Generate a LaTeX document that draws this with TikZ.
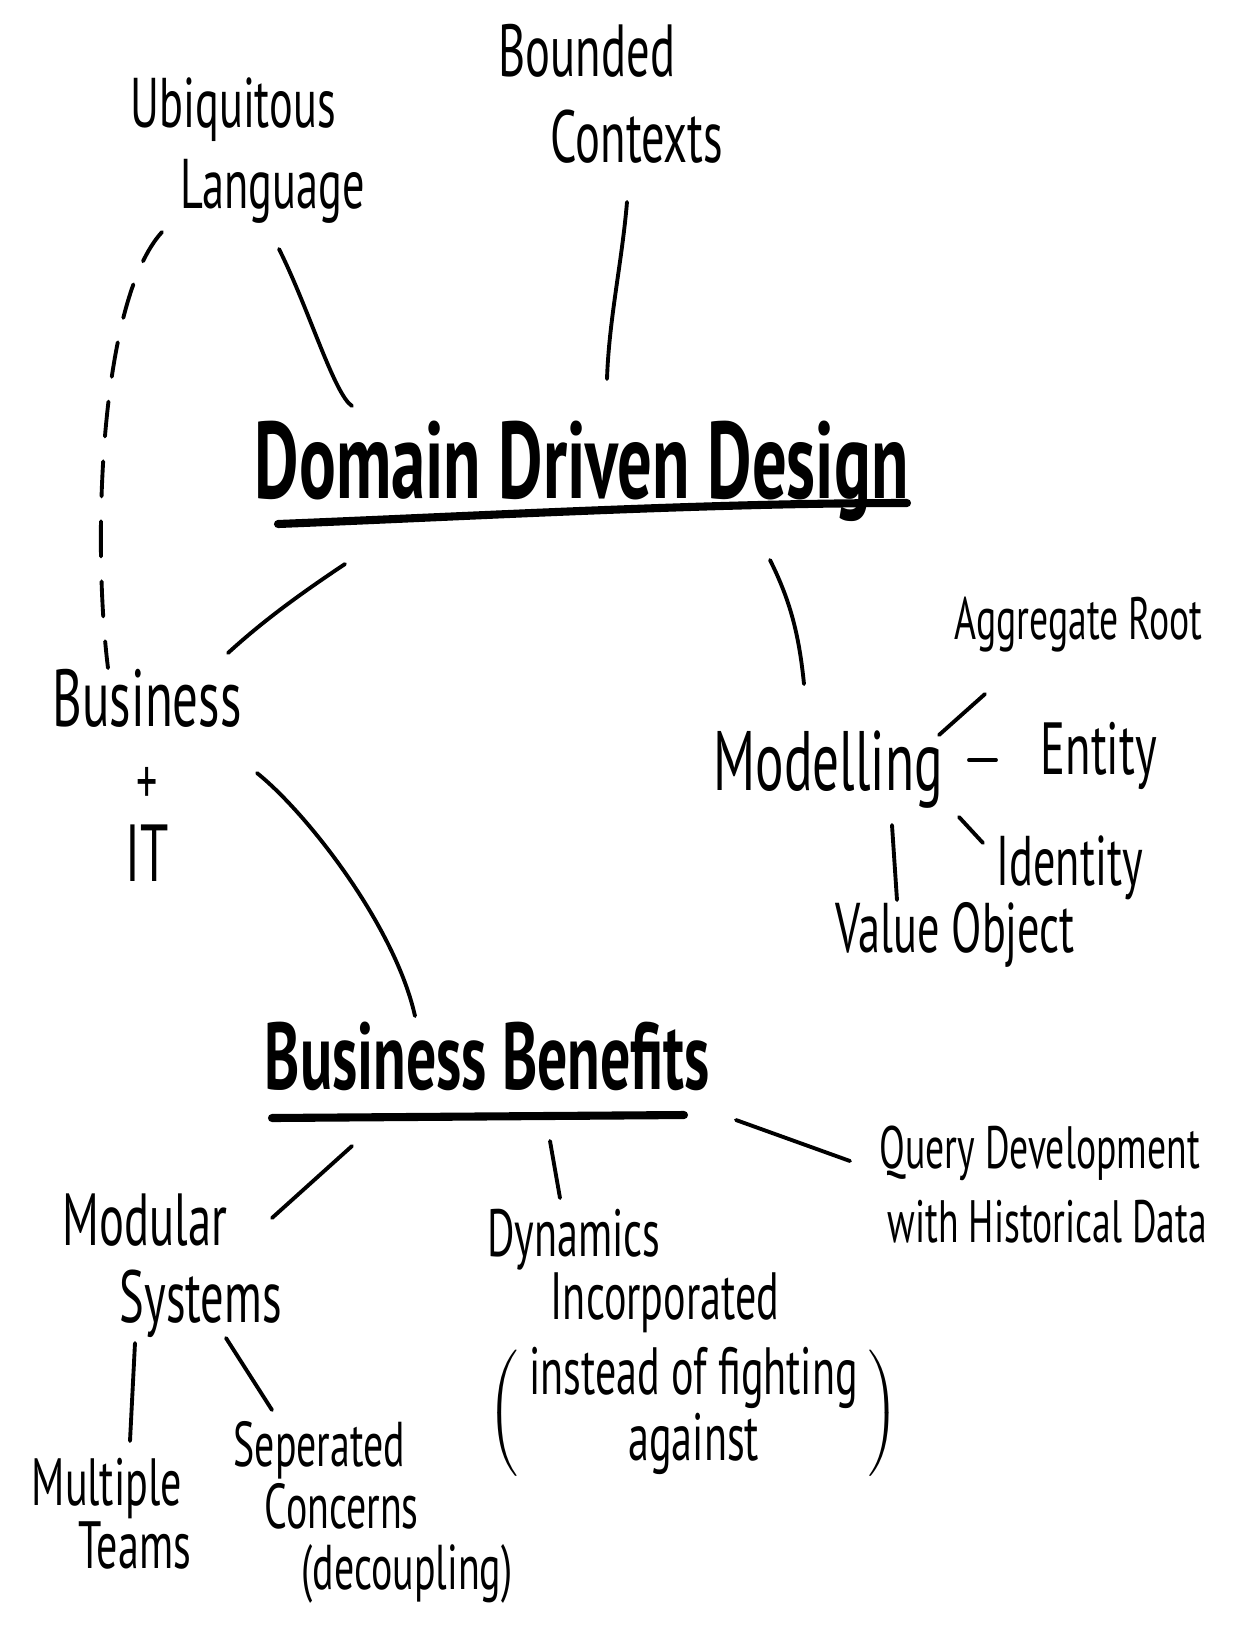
\documentclass[tikz,border=0pt]{standalone}
\usepackage{fontspec}
\usepackage{tikz}
\usetikzlibrary{positioning, calc}
\newfontfamily\handfont[FakeStretch=0.63]{PT Sans}

\begin{document}
\begin{tikzpicture}[
    x=0.01cm, y=-0.01cm,
    idea/.style={inner sep=0pt, anchor=north west, align=left, font=\handfont\fontsize{20}{23}\selectfont},
    subidea/.style={idea, font=\handfont\fontsize{17}{21}\selectfont},
    tight/.style={idea, font=\handfont\fontsize{18}{17.5}\selectfont},
    topic/.style={inner sep=0pt, anchor=north west, font=\handfont\bfseries\fontsize{31}{34}\selectfont},
    link/.style={line width=1.1pt, line cap=round},
    underline/.style={line width=2.3pt, line cap=round}
]
    \fill[white] (0,0) rectangle (1258,1626);
    \useasboundingbox (0,0) rectangle (1258,1626);

    % the two topics
    \node[topic] (ddd) at (254,420) {Domain Driven Design};
    \node[topic, font=\handfont\bfseries\fontsize{27}{30}\selectfont] (benefits) at (264,1021) {Business Benefits};

    % ideas around them
    \node[idea] (ubiq) at (130,77) {Ubiquitous\\\hspace*{0.5cm}Language};
    \node[idea, font=\handfont\fontsize{21}{24.5}\selectfont] (bounded) at (498,23) {Bounded\\\hspace*{0.52cm}Contexts};
    \node[idea, align=center, font=\handfont\fontsize{23}{22}\selectfont] (bit) at (52,669) {Business\\{\fontsize{19}{19}\selectfont +}\\IT};
    \node[idea, font=\handfont\fontsize{24}{26}\selectfont] (modelling) at (713,730) {Modelling};
    \node[subidea] (aggregate) at (954,596) {Aggregate Root};
    \node[idea, font=\handfont\fontsize{21}{24}\selectfont] (entity) at (1040,721) {Entity};
    \node[idea] (identity) at (996,835) {Identity};
    \node[idea] (value) at (835,902) {Value Object};
    \node[idea, font=\handfont\fontsize{21}{22}\selectfont] (modular) at (62,1193) {Modular\\\hspace*{0.57cm}Systems};
    \node[tight, font=\handfont\fontsize{19}{18}\selectfont] (dynamics) at (487,1208) {Dynamics\\\hspace*{0.63cm}Incorporated\\[3pt]
        $\left(\mbox{\begin{tabular}{@{\,}c@{\,}}instead of fighting\\against\end{tabular}}\right)$};
    \node[subidea] (query) at (879,1125) {Query Development\\\hspace*{0.08cm}with Historical Data};
    \node[tight, font=\handfont\fontsize{19}{16}\selectfont] (multiple) at (31,1457) {Multiple\\\hspace*{0.47cm}Teams};
    \node[tight] (separated) at (233,1421) {Seperated\\\hspace*{0.31cm}Concerns\\\hspace*{0.68cm}(decoupling)};

    % underlines
    \draw[underline] ([shift={(24,104)}]ddd.north west) .. controls +(200,-8) and +(-200,0) .. ([shift={(653,83)}]ddd.north west);
    \draw[underline] ([shift={(8,97)}]benefits.north west) -- ([shift={(420,94)}]benefits.north west);

    % strokes between ideas
    \draw[link] ([shift={(149,172)}]ubiq.north west) .. controls +(30,60) and +(-18,-12) .. ([shift={(98,-14)}]ddd.north west);
    \draw[link] ([shift={(129,179)}]bounded.north west) .. controls +(-5,60) and +(2,-60) .. ([shift={(353,-41)}]ddd.north west);
    \draw[link, dash pattern=on 0.35cm off 0.25cm] ([shift={(32,155)}]ubiq.north west) .. controls +(-62,68) and +(-16,-128) .. ([shift={(56,-1)}]bit.north west);
    \draw[link] ([shift={(91,144)}]ddd.north west) .. controls +(-45,30) and +(35,-32) .. ([shift={(176,-16)}]bit.north west);
    \draw[link] ([shift={(516,140)}]ddd.north west) .. controls +(20,40) and +(-5,-50) .. ([shift={(91,-46)}]modelling.north west);
    \draw[link] ([shift={(205,104)}]bit.north west) .. controls +(50,40) and +(-20,-90) .. ([shift={(151,-5)}]benefits.north west);
    \draw[link] ([shift={(226,5)}]modelling.north west) -- ([shift={(31,98)}]aggregate.north west);
    \draw[link] ([shift={(256,30)}]modelling.north west) -- ([shift={(-44,39)}]entity.north west);
    \draw[link] ([shift={(246,87)}]modelling.north west) -- ([shift={(-13,8)}]identity.north west);
    \draw[link] ([shift={(179,95)}]modelling.north west) -- ([shift={(62,-2)}]value.north west);
    \draw[link] ([shift={(88,125)}]benefits.north west) -- ([shift={(210,25)}]modular.north west);
    \draw[link] ([shift={(286,120)}]benefits.north west) -- ([shift={(73,-10)}]dynamics.north west);
    \draw[link] ([shift={(472,99)}]benefits.north west) -- ([shift={(-29,36)}]query.north west);
    \draw[link] ([shift={(73,150)}]modular.north west) -- ([shift={(99,-16)}]multiple.north west);
    \draw[link] ([shift={(164,145)}]modular.north west) -- ([shift={(39,-11)}]separated.north west);
\end{tikzpicture}
\end{document}
